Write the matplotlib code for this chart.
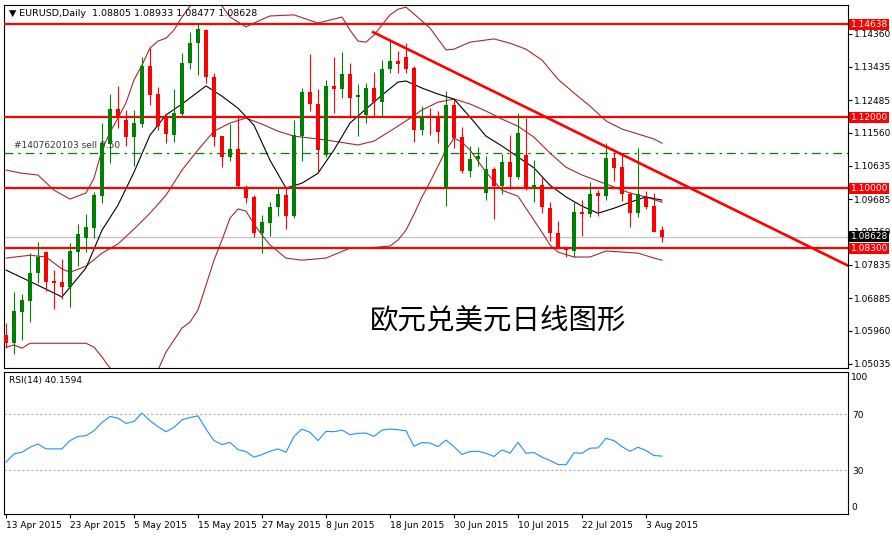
import numpy as np
import pandas as pd
import matplotlib
matplotlib.use('Agg')
import matplotlib.pyplot as plt
from matplotlib import transforms

# EURUSD daily, 13 Apr 2015 .. 5 Aug 2015
dates = pd.bdate_range('2015-04-13', '2015-08-05')

opens = [1.0584, 1.0561, 1.0649, 1.0680, 1.0759, 1.0819, 1.0737, 1.0734, 1.0720, 1.0819,
         1.0859, 1.0887, 1.0977, 1.1125, 1.1224, 1.1192, 1.1144, 1.1181, 1.1345, 1.1266,
         1.1198, 1.1150, 1.1209, 1.1354, 1.1410, 1.1447, 1.1314, 1.1147, 1.1088, 1.1110,
         1.1000, 1.0975, 1.0873, 1.0901, 1.0946, 1.0980, 1.0921, 1.1147, 1.1272, 1.1238,
         1.1093, 1.1289, 1.1280, 1.1323, 1.1257, 1.1207, 1.1283, 1.1243, 1.1337, 1.1359,
         1.1371, 1.1340, 1.1164, 1.1204, 1.1201, 1.1000, 1.1235, 1.1144, 1.1048, 1.1082,
         1.0986, 1.1054, 1.1006, 1.1074, 1.1031, 1.1093, 1.1000, 1.1008, 1.0943, 1.0873,
         1.0833, 1.0822, 1.0932, 1.0926, 1.0986, 1.0977, 1.1085, 1.1059, 1.0983, 1.0929,
         1.0972, 1.0949, 1.08805]
highs = [1.0618, 1.0706, 1.0700, 1.0816, 1.0847, 1.0822, 1.0768, 1.0799, 1.0844, 1.0898,
         1.0926, 1.0989, 1.1184, 1.1266, 1.1289, 1.1221, 1.1221, 1.1371, 1.1396, 1.1286,
         1.1207, 1.1280, 1.1382, 1.1441, 1.1467, 1.1450, 1.1325, 1.1147, 1.1181, 1.1207,
         1.1008, 1.0980, 1.0924, 1.0960, 1.1003, 1.1000, 1.1192, 1.1283, 1.1379, 1.1280,
         1.1306, 1.1371, 1.1385, 1.1354, 1.1294, 1.1297, 1.1328, 1.1362, 1.1422, 1.1388,
         1.1410, 1.1345, 1.1232, 1.1226, 1.1218, 1.1274, 1.1249, 1.1173, 1.1119, 1.1116,
         1.1090, 1.1059, 1.1096, 1.1150, 1.1212, 1.1198, 1.1079, 1.1034, 1.0960, 1.0907,
         1.0833, 1.0960, 1.0966, 1.1017, 1.0994, 1.1127, 1.1102, 1.1099, 1.0989, 1.1113,
         1.0992, 1.0986, 1.08933]
lows = [1.0547, 1.0530, 1.0570, 1.0621, 1.0731, 1.0709, 1.0658, 1.0686, 1.0663, 1.0779,
        1.0819, 1.0859, 1.0958, 1.1071, 1.1170, 1.1119, 1.1062, 1.1173, 1.1235, 1.1164,
        1.1127, 1.1130, 1.1201, 1.1337, 1.1320, 1.1297, 1.1119, 1.1059, 1.1076, 1.1000,
        1.0958, 1.0861, 1.0816, 1.0864, 1.0921, 1.0884, 1.0915, 1.1076, 1.1218, 1.1045,
        1.1088, 1.1212, 1.1255, 1.1198, 1.1147, 1.1184, 1.1201, 1.1201, 1.1325, 1.1325,
        1.1325, 1.1130, 1.1150, 1.1150, 1.1127, 1.0949, 1.1113, 1.1042, 1.1031, 1.1062,
        1.0966, 1.0912, 1.0983, 1.0997, 1.1025, 1.0994, 1.0960, 1.0929, 1.0850, 1.0827,
        1.0805, 1.0805, 1.0864, 1.0918, 1.0921, 1.0966, 1.1020, 1.0963, 1.0890, 1.0918,
        1.0941, 1.0875, 1.08477]
closes = [1.0561, 1.0652, 1.0683, 1.0759, 1.0805, 1.0734, 1.0731, 1.0720, 1.0822, 1.0870,
          1.0890, 1.0980, 1.1127, 1.1224, 1.1198, 1.1144, 1.1184, 1.1345, 1.1263, 1.1175,
          1.1153, 1.1212, 1.1354, 1.1410, 1.1450, 1.1314, 1.1144, 1.1088, 1.1110, 1.1006,
          1.0972, 1.0873, 1.0904, 1.0946, 1.0983, 1.0921, 1.1150, 1.1272, 1.1238, 1.1108,
          1.1289, 1.1280, 1.1323, 1.1255, 1.1263, 1.1283, 1.1243, 1.1337, 1.1359, 1.1351,
          1.1337, 1.1164, 1.1204, 1.1201, 1.1158, 1.1235, 1.1141, 1.1048, 1.1082, 1.1090,
          1.1054, 1.1006, 1.1074, 1.1031, 1.1156, 1.1000, 1.1008, 1.0946, 1.0873, 1.0827,
          1.0825, 1.0932, 1.0926, 1.0983, 1.0977, 1.1085, 1.1057, 1.0983, 1.0929, 1.0983,
          1.0946, 1.0875, 1.08628]

# indicator lines (bar index, value)
upper_idx = [0, 2, 4, 6, 8, 10, 11, 12, 13, 14, 15, 16, 17, 18, 19, 20, 21, 22, 23, 25,
             27, 28, 30, 31, 33, 36, 39, 42, 43, 44, 45, 46, 48, 49, 50, 52, 53, 55, 56, 58,
             61, 63, 65, 67, 69, 71, 73, 75, 77, 79, 81, 82]
upper_val = [1.1051, 1.1042, 1.1037, 1.0994, 1.0969, 1.0986, 1.1028, 1.1108, 1.1158, 1.1198,
             1.1241, 1.1306, 1.1348, 1.1396, 1.1416, 1.1424, 1.1447, 1.1484, 1.1515, 1.1546,
             1.1515, 1.1484, 1.1456, 1.1467, 1.1487, 1.1490, 1.1467, 1.1484, 1.1447, 1.1416,
             1.1413, 1.1433, 1.1490, 1.1506, 1.1512, 1.1473, 1.1453, 1.1391, 1.1393, 1.1413,
             1.1422, 1.1410, 1.1393, 1.1362, 1.1308, 1.1269, 1.1232, 1.1190, 1.1167, 1.1153,
             1.1139, 1.1127]
mid_idx = [0, 3, 5, 7, 8, 10, 12, 14, 16, 18, 20, 22, 24, 26, 28, 30, 32, 34, 36, 40,
           44, 46, 48, 50, 52, 54, 56, 58, 60, 62, 64, 66, 68, 70, 72, 74, 76, 78, 80, 82]
mid_val = [1.0802, 1.0810, 1.0805, 1.0771, 1.0762, 1.0779, 1.0816, 1.0842, 1.0884, 1.0929,
           1.0980, 1.1051, 1.1108, 1.1161, 1.1184, 1.1198, 1.1181, 1.1161, 1.1147, 1.1136,
           1.1122, 1.1133, 1.1161, 1.1190, 1.1221, 1.1243, 1.1252, 1.1238, 1.1218, 1.1195,
           1.1175, 1.1144, 1.1099, 1.1059, 1.1037, 1.1020, 1.1003, 1.0986, 1.0975, 1.0960]
lower_idx = [0, 1, 2, 3, 5, 10, 11, 12, 13, 14, 16, 17, 18, 19, 20, 21, 22, 23, 24, 25,
             26, 27, 28, 29, 30, 31, 32, 33, 35, 37, 40, 43, 45, 48, 49, 50, 51, 52, 53, 54,
             55, 56, 57, 58, 60, 62, 64, 65, 66, 67, 68, 69, 71, 73, 75, 77, 79, 81, 82]
lower_val = [1.0550, 1.0556, 1.0547, 1.0561, 1.0561, 1.0561, 1.0550, 1.0522, 1.0491, 1.0479,
             1.0462, 1.0462, 1.0468, 1.0485, 1.0536, 1.0570, 1.0604, 1.0621, 1.0655, 1.0725,
             1.0796, 1.0853, 1.0915, 1.0941, 1.0935, 1.0898, 1.0867, 1.0839, 1.0802, 1.0796,
             1.0802, 1.0830, 1.0830, 1.0836, 1.0853, 1.0881, 1.0926, 1.0975, 1.1017, 1.1062,
             1.1108, 1.1141, 1.1130, 1.1108, 1.1045, 1.0994, 1.0977, 1.0943, 1.0909, 1.0875,
             1.0839, 1.0819, 1.0805, 1.0805, 1.0822, 1.0819, 1.0816, 1.0802, 1.0796]
ma_idx = [0, 4, 7, 10, 12, 14, 16, 18, 20, 22, 24, 25, 27, 29, 31, 33, 35, 37, 39, 41,
          43, 45, 47, 49, 50, 52, 54, 56, 58, 60, 62, 64, 66, 68, 70, 72, 74, 76, 78, 80, 82]
ma_val = [1.0768, 1.0725, 1.0692, 1.0774, 1.0881, 1.0952, 1.1045, 1.1150, 1.1207, 1.1238,
          1.1272, 1.1289, 1.1260, 1.1226, 1.1178, 1.1079, 1.1000, 1.1014, 1.1042, 1.1108,
          1.1184, 1.1224, 1.1263, 1.1300, 1.1303, 1.1283, 1.1266, 1.1252, 1.1201, 1.1147,
          1.1119, 1.1088, 1.1057, 1.1008, 1.0975, 1.0949, 1.0929, 1.0943, 1.0960, 1.0975, 1.0966]

rsi = [35.9, 41.8, 42.9, 46.5, 48.8, 45.3, 45.3, 45.3, 51.2, 54.2,
       54.7, 58.2, 64.1, 68.4, 67.2, 63.4, 64.8, 70.7, 65.3, 61.1,
       57.5, 60.6, 66.0, 67.6, 68.8, 59.4, 51.2, 48.4, 49.9, 44.8,
       43.4, 39.4, 41.3, 43.6, 45.3, 42.9, 54.2, 59.4, 57.1, 51.2,
       57.8, 57.5, 58.7, 55.4, 56.4, 56.6, 54.2, 58.7, 59.4, 58.9,
       58.2, 47.2, 49.8, 49.5, 46.9, 51.6, 46.9, 41.3, 43.4, 43.6,
       42.2, 39.9, 44.6, 42.2, 50.0, 42.2, 42.7, 39.4, 37.1, 34.2,
       34.0, 42.5, 42.2, 45.8, 46.0, 52.8, 51.2, 46.9, 43.6, 46.5,
       44.1, 40.6, 40.16]

levels = [1.14638, 1.12000, 1.10000, 1.08300]
sell_level = 1.1098
bid = 1.08628
trend_x = [45.9, 105.3]
trend_y = [1.1441, 1.0780]

price_ticks = [1.14360, 1.13435, 1.12485, 1.11560, 1.10635, 1.09685,
               1.08760, 1.07835, 1.06885, 1.05960, 1.05035]
date_ticks = list(range(0, 81, 8))
date_labels = [f"{dates[i].day} {dates[i].strftime('%b %Y')}" for i in date_ticks]

plt.rcParams['font.family'] = ['DejaVu Sans']
fs = 6.5

fig = plt.figure(figsize=(8.92, 5.36), dpi=100)
L, W = 4 / 892, 844 / 892
ax = fig.add_axes([L, 1 - 368 / 536, W, 363 / 536])
ax2 = fig.add_axes([L, 1 - 514 / 536, W, 142 / 536], sharex=ax)

o = np.array(opens); h = np.array(highs); l = np.array(lows); c = np.array(closes)
x = np.arange(len(o))
cols = np.where(c >= o, '#008000', '#ff0000')

# bollinger + ma
brown = '#a52a2a'
ax.plot(upper_idx, upper_val, color=brown, lw=0.8, zorder=2)
ax.plot(mid_idx, mid_val, color=brown, lw=0.8, zorder=2)
ax.plot(lower_idx, lower_val, color=brown, lw=0.8, zorder=2)
ax.plot(ma_idx, ma_val, color='black', lw=0.8, zorder=2)

# levels
for lv in levels:
    ax.axhline(lv, color='#ff0000', lw=1.6, zorder=3)
ax.axhline(sell_level, color='#008000', lw=0.9, ls=(0, (7, 4, 2, 4)), zorder=1)
ax.axhline(bid, color='#c0c0c0', lw=0.9, zorder=1)
ax.text(7.5 / 8, sell_level + 0.0009, '#1407620103 sell 0.50', fontsize=fs,
        color='#333333', va='bottom', ha='left', zorder=1)

# candles
ax.vlines(x, l, h, colors=cols, lw=0.8, zorder=4)
ax.bar(x, np.maximum(np.abs(c - o), 0.0003), bottom=np.minimum(o, c), width=0.62,
       color=cols, lw=0, zorder=5)

ax.plot(trend_x, trend_y, color='#ff0000', lw=1.9, zorder=6)

ax.set_xlim(-0.25, 105.25)
ax.set_ylim(1.0491, 1.1518)
ax.yaxis.tick_right()
ax.set_yticks(price_ticks)
ax.set_yticklabels([f'{v:.5f}' for v in price_ticks])
ax.tick_params(axis='y', labelsize=fs, length=3, width=0.8, pad=1.5, colors='black')
ax.tick_params(axis='x', bottom=False, labelbottom=False)
for s in ax.spines.values():
    s.set_linewidth(0.8)

# right-side level tags
tr = transforms.blended_transform_factory(ax.transAxes, ax.transData)
for lv in levels:
    ax.text(1.003, lv, f'{lv:.5f}', transform=tr, fontsize=fs, color='white',
            va='center', ha='left', zorder=20, clip_on=False,
            bbox=dict(boxstyle='square,pad=0.12', fc='#ff0000', ec='none'))
ax.text(1.003, bid, f'{bid:.5f}', transform=tr, fontsize=fs, color='white',
        va='center', ha='left', zorder=20, clip_on=False,
        bbox=dict(boxstyle='square,pad=0.12', fc='black', ec='none'))

ax.text(0.006, 0.977, '\u25bc EURUSD,Daily  1.08805 1.08933 1.08477 1.08628',
        transform=ax.transAxes, fontsize=fs + 0.3, va='center', ha='left')

fig.text(370 / 892, 1 - 320 / 536, '欧元兑美元日线图形', fontsize=20.5,
         family=['Noto Sans CJK SC', 'DejaVu Sans'], va='center', ha='left')

# RSI panel
ax2.plot(x, rsi, color='#1e90ff', lw=0.8)
ax2.axhline(70, color='#b0b0b0', lw=0.8, ls=(0, (2, 2)))
ax2.axhline(30, color='#b0b0b0', lw=0.8, ls=(0, (2, 2)))
ax2.set_ylim(-1, 100)
ax2.yaxis.tick_right()
ax2.set_yticks([70, 30])
ax2.set_yticklabels(['70', '30'])
ax2.tick_params(axis='y', labelsize=fs, length=0, pad=3)
tr2 = transforms.blended_transform_factory(ax2.transAxes, ax2.transData)
ax2.text(1.004, 99, '100', transform=tr2, fontsize=fs, va='top', ha='left', clip_on=False)
ax2.text(1.004, 0.5, '0', transform=tr2, fontsize=fs, va='bottom', ha='left', clip_on=False)
ax2.text(0.006, 0.94, 'RSI(14) 40.1594', transform=ax2.transAxes, fontsize=fs,
         va='center', ha='left')
ax2.set_xticks(date_ticks)
ax2.set_xticklabels(date_labels, ha='left')
ax2.tick_params(axis='x', labelsize=fs, length=3, width=0.8, pad=2)
for s in ax2.spines.values():
    s.set_linewidth(0.8)

fig.savefig('out.png', dpi=100)
